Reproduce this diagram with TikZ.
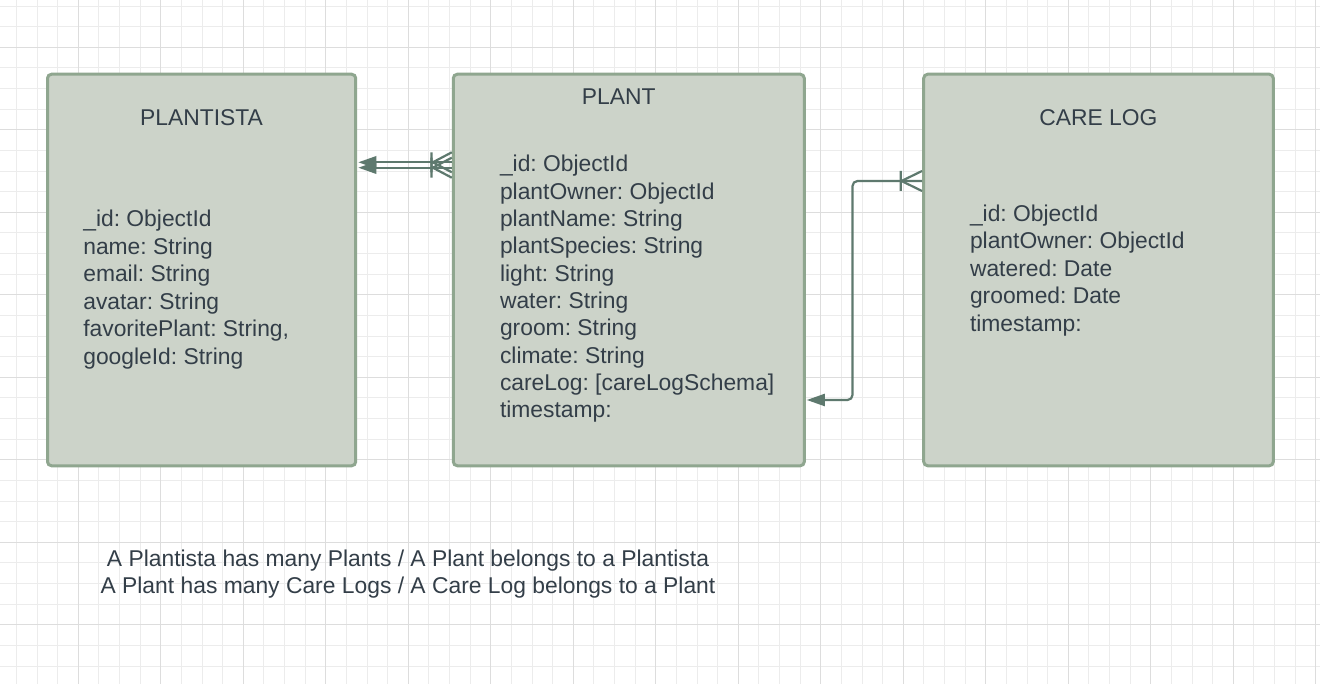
\documentclass[tikz,border=0pt]{standalone}
\usepackage{fontspec}
\setmainfont{Liberation Sans}
\frenchspacing
\usetikzlibrary{arrows.meta}
\definecolor{boxfill}{RGB}{204,211,201}
\definecolor{boxdraw}{RGB}{143,166,143}
\definecolor{txt}{RGB}{51,62,72}
\definecolor{conncol}{RGB}{94,121,110}
\definecolor{gridminor}{RGB}{236,236,236}
\definecolor{gridmajor}{RGB}{221,221,221}
\tikzset{
  entity/.style={draw=boxdraw, fill=boxfill, line width=3pt, rounded corners=4pt,
    inner sep=0pt, outer sep=0pt, minimum height=391.5pt},
  label/.style={text=txt, inner sep=0pt, outer sep=0pt},
  conn/.style={draw=conncol, line width=2.2pt},
  tip/.style={-{Triangle[length=18pt,width=12pt]}},
  minorline/.style={draw=gridminor, line width=1pt},
  majorline/.style={draw=gridmajor, line width=1.2pt},
}
\begin{document}
\begin{tikzpicture}[x=1pt,y=-1pt]
\useasboundingbox (0,0) rectangle (1320,684);
\fill[white] (0,0) rectangle (1320,684);
% grid
\foreach \k in {0,...,63} \draw[minorline] ({16.4+20.625*\k},0) -- ++(0,684);
\foreach \k in {0,...,32} \draw[minorline] (0,{6.05+20.625*\k}) -- ++(1320,0);
\foreach \k in {0,...,15} \draw[majorline] ({78.3+82.5*\k},0) -- ++(0,684);
\foreach \k in {0,...,7} \draw[majorline] (0,{47.3+82.5*\k}) -- ++(1320,0);
% entities
\node[entity, minimum width=308.2pt] (plantista) at (201.6,270) {};
\node[entity, minimum width=351pt] (plant) at (628.8,270) {};
\node[entity, minimum width=349.6pt] (carelog) at (1098.5,270) {};
% texts (base anchor = baseline of last line)
\begin{scope}[every node/.style={label, font=\fontsize{22.85}{27.5}\selectfont}]
\node[anchor=base] (t1) at (201.6,125.7) {PLANTISTA};
\node[anchor=base] (t2) at (618.8,104.3) {PLANT};
\node[anchor=base] (t3) at (1098.3,125.7) {CARE LOG};
\node[anchor=base west, align=left, font=\fontsize{22.85}{27.6}\selectfont] (b1) at (83.3,364.6)
  {\_id: ObjectId\\name: String\\email: String\\avatar: String\\favoritePlant: String,\\googleId: String};
\node[anchor=base west, align=left, font=\fontsize{22.85}{27.33}\selectfont] (b2) at (500,417.7)
  {\_id: ObjectId\\plantOwner: ObjectId\\plantName: String\\plantSpecies: String\\light: String\\water: String\\groom: String\\climate: String\\careLog: [careLogSchema]\\timestamp:};
\node[anchor=base west, align=left] (b3) at (970,331.5)
  {\_id: ObjectId\\plantOwner: ObjectId\\watered: Date\\groomed: Date\\timestamp:};
\node[anchor=base, align=center] (note) at (408,593.5)
  {A Plantista has many Plants / A Plant belongs to a Plantista\\A Plant has many Care Logs / A Care Log belongs to a Plant};
\end{scope}
% connectors PLANT -> PLANTISTA (two parallel lines)
\coordinate (pa) at ([xshift=-1.5pt,yshift=107.7pt]plant.west);
\coordinate (pb) at ([xshift=-1.5pt,yshift=102.3pt]plant.west);
\draw[conn, tip] (pa) -- ([xshift=2.6pt,yshift=107.7pt]plantista.east);
\draw[conn, tip] (pb) -- ([xshift=2.6pt,yshift=102.3pt]plantista.east);
\foreach \c in {pa,pb}{
  \draw[conn] ([xshift=-19pt]\c) -- ([yshift=-10pt]\c)
              ([xshift=-19pt]\c) -- ([yshift=10pt]\c)
              ([xshift=-20.3pt,yshift=-10pt]\c) -- ([xshift=-20.3pt,yshift=10pt]\c);
}
% connector CARE LOG -> PLANT
\coordinate (cc) at ([xshift=-1.7pt,yshift=89pt]carelog.west);
\coordinate (bendx) at (852.5,290);
\draw[conn, tip, rounded corners=5pt] (cc) -| (bendx) |- ([xshift=2.5pt,yshift=-130pt]plant.east);
\draw[conn] ([xshift=-20.5pt]cc) -- ([yshift=-10pt]cc)
            ([xshift=-20.5pt]cc) -- ([yshift=10pt]cc)
            ([xshift=-21.3pt,yshift=-10pt]cc) -- ([xshift=-21.3pt,yshift=10pt]cc);
\end{tikzpicture}
\end{document}
